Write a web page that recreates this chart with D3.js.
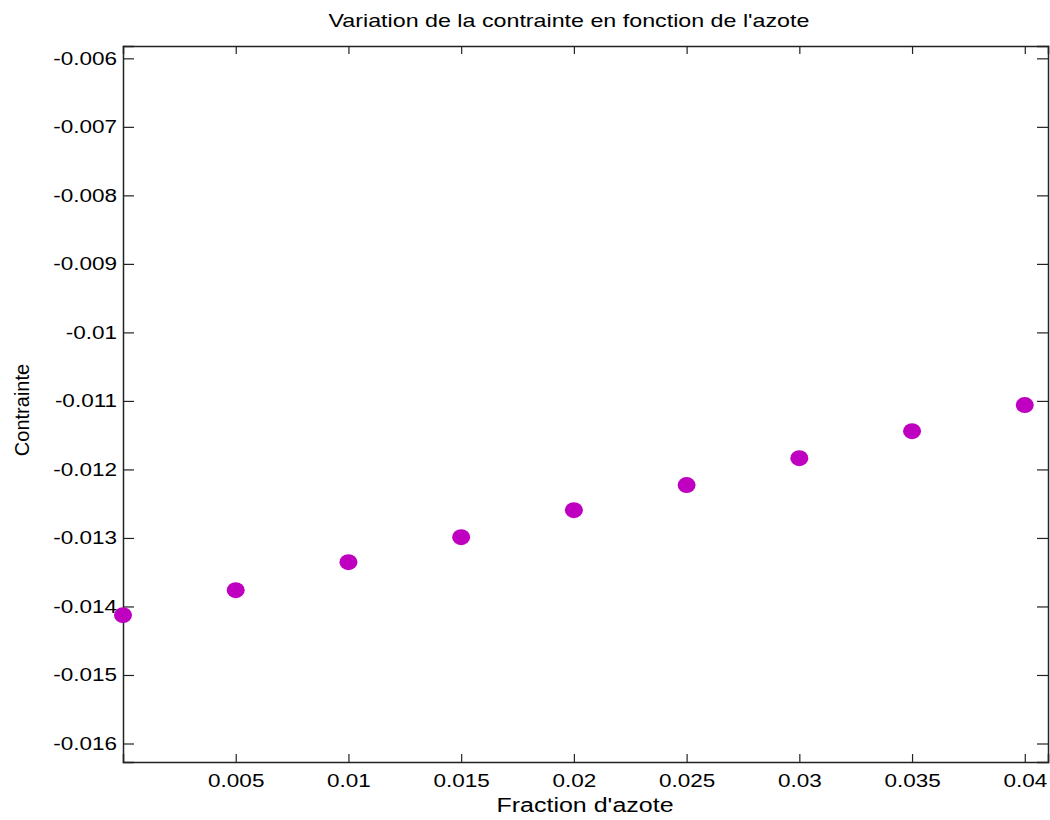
<!DOCTYPE html>
<html>
<head>
<meta charset="utf-8">
<script src="https://cdn.jsdelivr.net/npm/d3@7"></script>
<style>
  body { margin: 0; background: #fff; }
  text { font-family: "Liberation Sans", Arial, sans-serif; fill: #000; }
</style>
</head>
<body>
<div class="viz"></div>
<script>
const fraction = [0, 0.005, 0.01, 0.015, 0.02, 0.025, 0.03, 0.035, 0.04];
const contrainte = [-0.014127, -0.013762, -0.013353, -0.012988, -0.012594, -0.012229, -0.011835, -0.011441, -0.011061];
const xTicks = [0.005, 0.01, 0.015, 0.02, 0.025, 0.03, 0.035, 0.04];
const yTicks = [-0.006, -0.007, -0.008, -0.009, -0.01, -0.011, -0.012, -0.013, -0.014, -0.015, -0.016];

const w = 1050, h = 820;
const m = { left: 123, right: 2, top: 46, bottom: 58 };
const stretch = 1.25; // picture text is wider than tall

const svg = d3.select('.viz').append('svg')
    .attr('width', w)
    .attr('height', h);

const x = d3.scaleLinear().domain([0, 0.04103]).range([m.left, w - m.right]);
const y = d3.scaleLinear().domain([-0.01627, -0.00582]).range([h - m.bottom, m.top]);

// widen a text element like the reference
function widen(sel) {
    sel.each(function () {
        const len = this.getComputedTextLength();
        d3.select(this).attr('textLength', len * stretch).attr('lengthAdjust', 'spacingAndGlyphs');
    });
}

const fmt = d => String(d);

// inward ticks on all four sides
const bottomAxis = d3.axisBottom(x).tickValues(xTicks).tickSize(-8).tickPadding(12).tickFormat(fmt);
const topAxis = d3.axisTop(x).tickValues(xTicks).tickSize(-8).tickFormat('');
const leftAxis = d3.axisLeft(y).tickValues(yTicks).tickSize(-11).tickPadding(6).tickFormat(fmt);
const rightAxis = d3.axisRight(y).tickValues(yTicks).tickSize(-11).tickFormat('');

const gb = svg.append('g').attr('transform', `translate(0,${h - m.bottom})`).call(bottomAxis);
const gt = svg.append('g').attr('transform', `translate(0,${m.top})`).call(topAxis);
const gl = svg.append('g').attr('transform', `translate(${m.left},0)`).call(leftAxis);
const gr = svg.append('g').attr('transform', `translate(${w - m.right},0)`).call(rightAxis);

[gb, gt, gl, gr].forEach(g => {
    g.select('.domain').attr('stroke', '#222').attr('stroke-width', 1.5);
    g.selectAll('.tick line').attr('stroke', '#222').attr('stroke-width', 1.2);
    g.selectAll('.tick text').attr('font-size', 18).attr('font-family', '"Liberation Sans", Arial, sans-serif').attr('fill', '#000');
});
gb.selectAll('.tick text').call(widen).attr('text-anchor', 'middle');
gl.selectAll('.tick text').call(widen);

svg.append('g')
    .selectAll('ellipse')
    .data(fraction)
    .enter()
    .append('ellipse')
    .attr('cx', d => x(d))
    .attr('cy', (d, i) => y(contrainte[i]))
    .attr('rx', 9)
    .attr('ry', 8)
    .attr('fill', '#c000c0');

svg.append('text')
    .attr('x', 569)
    .attr('y', 27)
    .attr('text-anchor', 'middle')
    .attr('font-size', 18.6)
    .text("Variation de la contrainte en fonction de l'azote")
    .call(widen);

svg.append('text')
    .attr('x', 585)
    .attr('y', 812)
    .attr('text-anchor', 'middle')
    .attr('font-size', 20)
    .text("Fraction d'azote")
    .call(widen);

svg.append('text')
    .attr('transform', 'translate(29,410) rotate(-90)')
    .attr('text-anchor', 'middle')
    .attr('font-size', 20)
    .text('Contrainte');
</script>
</body>
</html>
